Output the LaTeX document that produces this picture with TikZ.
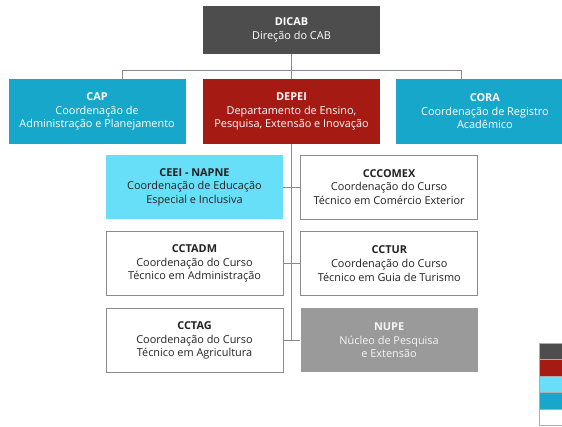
\documentclass[tikz,border=0pt]{standalone}
\usepackage{fontspec}
\setmainfont{Open Sans}
\usepackage{tikz}
\usetikzlibrary{positioning}
\usepackage{xcolor}
\definecolor{dirgray}{HTML}{4D4D4D}
\definecolor{deptred}{HTML}{A51B14}
\definecolor{coordcyan}{HTML}{17A7CA}
\definecolor{napnecyan}{HTML}{68DFF8}
\definecolor{nupegray}{HTML}{9A9A9A}
\definecolor{linegray}{HTML}{8A8A8A}
\definecolor{textdark}{HTML}{222222}

\begin{document}
\begin{tikzpicture}[x=1pt, y=-1pt,
  unit/.style = {rectangle, minimum width=177pt, minimum height=64pt, inner sep=0pt,
    align=center, font=\fontsize{10.9}{13.6}\selectfont},
  dir/.style = {unit, fill=dirgray, text=white, minimum height=48pt},
  dept/.style = {unit, fill=deptred, text=white, minimum height=65pt},
  coord/.style = {unit, fill=coordcyan, text=white, minimum height=65pt},
  napne/.style = {unit, fill=napnecyan, text=textdark},
  course/.style = {unit, draw=linegray, line width=0.8pt, fill=white, text=textdark},
  nupe/.style = {unit, fill=nupegray, text=white!90!nupegray},
  link/.style = {draw=linegray, line width=0.8pt}]
\clip (0,0) rectangle (562,427);
\fill[white] (0,0) rectangle (562,427);

% top
\node[dir] (dicab) at (291.5,30) {\textbf{DICAB}\\Direção do CAB};
\node[dept] (depei) at (291.5,111.5) {\textbf{DEPEI}\\Departamento de Ensino,\\Pesquisa, Extensão e Inovação};
\node[coord] (cap) [left=17pt of depei] {\textbf{CAP}\\Coordenação de\\Administração e Planejamento};
\node[coord] (cora) [right=16pt of depei] {\textbf{CORA}\\Coordenação de Registro\\Acadêmico};

% units under DEPEI
\node[napne] (ceei) at (194.5,187) {\textbf{CEEI - NAPNE}\\Coordenação de Educação\\Especial e Inclusiva};
\node[course] (cctadm) [below=12pt of ceei] {\textbf{CCTADM}\\Coordenação do Curso\\Técnico em Administração};
\node[course] (cctag) [below=12pt of cctadm] {\textbf{CCTAG}\\Coordenação do Curso\\Técnico em Agricultura};
\node[course] (cccomex) [right=17pt of ceei] {\textbf{CCCOMEX}\\Coordenação do Curso\\Técnico em Comércio Exterior};
\node[course] (cctur) [right=17pt of cctadm] {\textbf{CCTUR}\\Coordenação do Curso\\Técnico em Guia de Turismo};
\node[nupe] (nupe) [right=17pt of cctag] {\textbf{NUPE}\\Núcleo de Pesquisa\\e Extensão};

% connectors
\coordinate (busl) at (122,70);
\coordinate (busr) at (461,70);
\coordinate (trunk) at (depei.south |- nupe.west);
\draw[link] (dicab.south) -- (dicab.south |- busl);
\draw[link] (busl) -- (busr);
\draw[link] (busl) -- (busl |- cap.north);
\draw[link] (dicab.south |- busl) -- (depei.north);
\draw[link] (busr) -- (busr |- cora.north);
\draw[link] (depei.south) -- (trunk);
\draw[link] (ceei.east) -- (cccomex.west);
\draw[link] (cctadm.east) -- (cctur.west);
\draw[link] (cctag.east) -- (nupe.west);

% legend
\foreach \c [count=\i from 0] in {dirgray,deptred,napnecyan,coordcyan,white}
  \draw[draw=linegray!70, line width=0.6pt, fill=\c] (539,343+16.5*\i) rectangle ++(30,16.5);
\end{tikzpicture}
\end{document}
